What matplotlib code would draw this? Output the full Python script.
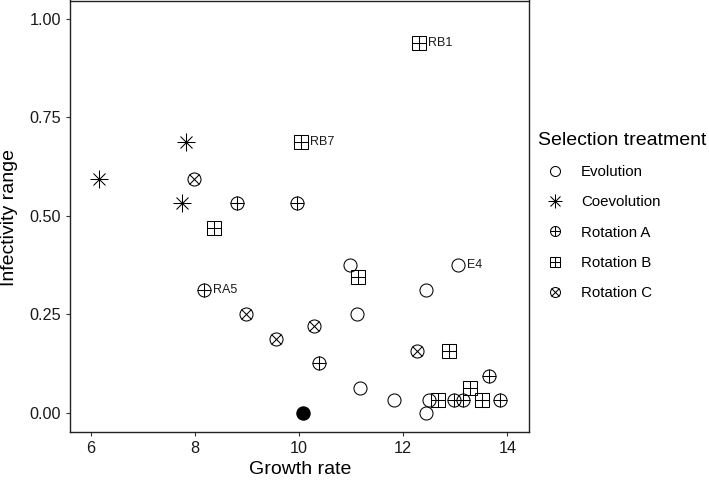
import matplotlib
matplotlib.use("Agg")
import matplotlib.pyplot as plt
from matplotlib.lines import Line2D

plt.rcParams['font.family'] = ['Liberation Sans', 'DejaVu Sans']

# ---- data ----
evo_x = [10.98, 13.05, 12.43, 11.12, 11.17, 11.83, 12.50, 12.44]
evo_y = [0.375, 0.375, 0.3125, 0.25, 0.0625, 0.03125, 0.03125, 0.0]

coevo_x = [6.16, 7.83, 7.76]
coevo_y = [0.59375, 0.6875, 0.53125]

rota_x = [8.81, 9.96, 8.18, 10.38, 13.65, 12.98, 13.15, 13.85]
rota_y = [0.53125, 0.53125, 0.3125, 0.125, 0.09375, 0.03125, 0.03125, 0.03125]

rotb_x = [12.30, 10.04, 8.37, 11.13, 12.88, 13.28, 12.66, 13.52]
rotb_y = [0.9375, 0.6875, 0.46875, 0.34375, 0.15625, 0.0625, 0.03125, 0.03125]

rotc_x = [7.99, 8.98, 9.56, 10.29, 12.27]
rotc_y = [0.59375, 0.25, 0.1875, 0.21875, 0.15625]

anc_x = [10.08]
anc_y = [0.0]

# labelled points: (text, series, index)
label_names = ["RB1", "RB7", "RA5", "E4"]
label_series = ["B", "B", "A", "E"]
label_index = [0, 1, 2, 1]

legend_labels = ["Evolution", "Coevolution", "Rotation A", "Rotation B", "Rotation C"]
x_ticks = [6, 8, 10, 12, 14]
y_ticks = [0.00, 0.25, 0.50, 0.75, 1.00]
y_ticklabels = ["0.00", "0.25", "0.50", "0.75", "1.00"]

# ---- figure ----
W, H = 709, 480
fig = plt.figure(figsize=(W / 100, H / 100), dpi=100)
ax = fig.add_axes([69.5 / W, (H - 432) / H, (529.3 - 69.5) / W, (432 - 0.5) / H])

LW = 0.75
MS = 9.4
K = 'black'


def marker_parts(kind, ms):
    """Return list of (marker, size) parts to overlay for a given shape."""
    if kind == 'E':
        return [('o', ms)]
    if kind == 'C':
        s = ms * 1.38
        return [('+', s), ('x', s / 1.414)]
    if kind == 'A':
        return [('o', ms), ('+', ms)]
    if kind == 'B':
        return [('s', ms), ('+', ms)]
    if kind == 'R':
        return [('o', ms), ('x', ms / 1.414)]
    return []


def draw_series(x, y, kind):
    for m, s in marker_parts(kind, MS):
        ax.plot(x, y, linestyle='none', marker=m, markersize=s,
                markerfacecolor='none', markeredgecolor=K, markeredgewidth=LW,
                zorder=3)


draw_series(evo_x, evo_y, 'E')
draw_series(coevo_x, coevo_y, 'C')
draw_series(rota_x, rota_y, 'A')
draw_series(rotb_x, rotb_y, 'B')
draw_series(rotc_x, rotc_y, 'R')
ax.plot(anc_x, anc_y, linestyle='none', marker='o', markersize=MS,
        markerfacecolor=K, markeredgecolor=K, zorder=3)

series = {"E": (evo_x, evo_y), "A": (rota_x, rota_y), "B": (rotb_x, rotb_y),
          "R": (rotc_x, rotc_y), "C": (coevo_x, coevo_y)}
for name, sk, idx in zip(label_names, label_series, label_index):
    sx, sy = series[sk]
    ax.annotate(name, (sx[idx], sy[idx]), xytext=(6.3, 0), textcoords='offset points',
                ha='left', va='center', fontsize=9, color='#1a1a1a')

ax.set_xlim(5.593, 14.42)
ax.set_ylim(-0.049, 1.046)
ax.set_xticks(x_ticks)
ax.set_xticklabels([str(t) for t in x_ticks])
ax.set_yticks(y_ticks)
ax.set_yticklabels(y_ticklabels)
ax.tick_params(axis='both', which='major', direction='out', length=3.2, width=0.8,
               color='#333333', labelsize=11.7, labelcolor='#1a1a1a')
ax.tick_params(axis='x', pad=3.5)
ax.tick_params(axis='y', pad=3)
for sp in ax.spines.values():
    sp.set_linewidth(1.0)
    sp.set_color('#222222')

fig.text(300 / W, 1 - 470 / H, "Growth rate", ha='center', va='center', fontsize=14)
fig.text(10 / W, 1 - 218 / H, "Infectivity range", ha='center', va='center',
         rotation=90, fontsize=14)

# ---- legend ----
fig.text(538 / W, 1 - 145 / H, "Selection treatment", ha='left', va='baseline', fontsize=14)
leg_y = [170.7, 201.0, 231.3, 261.7, 291.7]
leg_kind = ['E', 'C', 'A', 'B', 'R']
LMS = 7.2
for lab, yy, kd in zip(legend_labels, leg_y, leg_kind):
    for m, s in marker_parts(kd, LMS):
        fig.add_artist(Line2D([555 / W], [1 - yy / H], transform=fig.transFigure,
                              linestyle='none', marker=m, markersize=s,
                              markerfacecolor='none', markeredgecolor=K,
                              markeredgewidth=LW))
    fig.text(581 / W, 1 - yy / H, lab, ha='left', va='center_baseline', fontsize=10.8)

fig.savefig("out.png", dpi=100)
